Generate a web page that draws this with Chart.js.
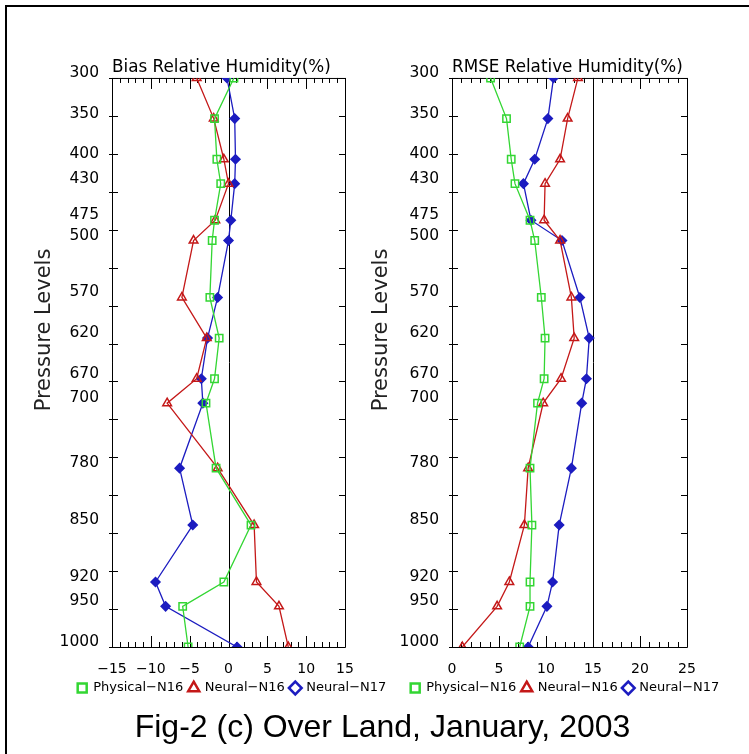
<!DOCTYPE html>
<html>
<head>
<meta charset="utf-8">
<title>Fig-2 (c) Over Land, January, 2003</title>
<script src="https://cdn.jsdelivr.net/npm/chart.js@4.4.1/dist/chart.umd.min.js"></script>
<style>
  html, body { margin: 0; padding: 0; background: #fff; }
  .frameTop { position: absolute; left: 5px; top: 5px; width: 744px; height: 2px; background: #000; }
  .frameLeft { position: absolute; left: 5px; top: 5px; width: 2px; height: 749px; background: #000; }
  canvas { position: absolute; top: 0; }
  #biasChart { left: 0; }
  #rmseChart { left: 365px; }
  #figTitle { position: absolute; left: 0; top: 708px; width: 733px; padding-left: 16px; line-height: 32px;
              text-align: center; white-space: nowrap;
              font: 32px "Liberation Sans", Arial, sans-serif; color: #000; }
</style>
</head>
<body>
<div class="frameTop"></div>
<div class="frameLeft"></div>
<canvas id="biasChart" width="464" height="754"></canvas>
<canvas id="rmseChart" width="384" height="754"></canvas>
<div id="figTitle">Fig-2 (c) Over Land, January, 2003</div>

<script>
// pressure levels (hPa), also used as the y tick labels
const levels = [300, 350, 400, 430, 475, 500, 570, 620, 670, 700, 780, 850, 920, 950, 1000];

// bias of relative humidity (%)
const biasPhysN16   = [0.7, -1.8, -1.5, -1.0, -1.8, -2.1, -2.4, -1.2, -1.8, -2.9, -1.6, 2.9, -0.6, -5.9, -5.2];
const biasNeuralN16 = [-4.1, -1.9, -0.6, 0.0, -1.7, -4.5, -6.0, -2.8, -4.1, -7.9, -1.4, 3.3, 3.6, 6.5, 7.7];
const biasNeuralN17 = [-0.2, 0.8, 0.9, 0.8, 0.3, 0.0, -1.4, -2.7, -3.5, -3.3, -6.3, -4.6, -9.4, -8.1, 1.1];

// rmse of relative humidity (%)
const rmsePhysN16   = [4.1, 5.8, 6.3, 6.7, 8.3, 8.8, 9.5, 9.9, 9.8, 9.1, 8.3, 8.5, 8.3, 8.3, 7.2];
const rmseNeuralN16 = [13.4, 12.3, 11.5, 9.9, 9.8, 11.5, 12.7, 13.0, 11.6, 9.7, 8.1, 7.7, 6.1, 4.8, 1.1];
const rmseNeuralN17 = [10.8, 10.2, 8.8, 7.6, 8.4, 11.7, 13.6, 14.6, 14.3, 13.8, 12.7, 11.4, 10.7, 10.1, 8.1];

const biasTicks = [-15, -10, -5, 0, 5, 10, 15];
const rmseTicks = [0, 5, 10, 15, 20, 25];
const seriesNames = ['Physical\u2212N16', 'Neural\u2212N16', 'Neural\u2212N17'];

const GREEN = '#33d633';
const RED = '#c41818';
const BLUE = '#1c1cc0';
const Y_TICK_STEPS = 15;   // plain tick marks along the pressure axis

const xTickFont = { family: 'DejaVu Sans', size: 14 };
const yTickFont = { family: 'DejaVu Sans', size: 15.5 };
const minus = v => String(v).replace('-', '\u2212');

function series(label, values, color, style, radius, filled) {
  return {
    label: label,
    data: values.map((v, i) => ({ x: v, y: levels[i] })),
    borderColor: color,
    backgroundColor: color,
    borderWidth: 1.3,
    pointStyle: style,
    pointRadius: radius,
    pointBorderWidth: 1.5,
    pointBorderColor: color,
    pointBackgroundColor: filled ? color : 'rgba(0,0,0,0)',
    tension: 0,
    clip: 0
  };
}

// frame, inward ticks, reference line and rotated y title
function axisDecor(refValue, yTitleX) {
  return {
    id: 'axisDecor',
    beforeDatasetsDraw(chart) {
      const { ctx, chartArea: a, scales: { x, y } } = chart;
      ctx.save();
      ctx.strokeStyle = '#000';
      ctx.lineWidth = 1;
      ctx.beginPath();
      ctx.rect(a.left + 0.5, a.top + 0.5, a.right - a.left, a.bottom - a.top);
      for (let v = x.min; v <= x.max; v++) {
        const px = Math.round(x.getPixelForValue(v)) + 0.5;
        const len = v % 5 === 0 ? 11 : 5;
        ctx.moveTo(px, a.top); ctx.lineTo(px, a.top + len);
        ctx.moveTo(px, a.bottom); ctx.lineTo(px, a.bottom - len);
      }
      for (let i = 0; i <= Y_TICK_STEPS; i++) {
        const p = y.min + i * (y.max - y.min) / Y_TICK_STEPS;
        const py = Math.round(y.getPixelForValue(p)) + 0.5;
        ctx.moveTo(a.left - 3, py); ctx.lineTo(a.left + 6, py);
        ctx.moveTo(a.right - 6, py); ctx.lineTo(a.right, py);
      }
      const rx = Math.round(x.getPixelForValue(refValue)) + 0.5;
      ctx.moveTo(rx, a.top); ctx.lineTo(rx, a.bottom);
      ctx.stroke();

      ctx.translate(yTitleX, 330);
      ctx.rotate(-Math.PI / 2);
      ctx.fillStyle = '#222';
      ctx.font = '21px "DejaVu Sans"';
      ctx.textAlign = 'center';
      ctx.textBaseline = 'middle';
      ctx.fillText('Pressure Levels', 0, 0);
      ctx.restore();
    }
  };
}

function makePanel(canvasId, title, xTicks, data, refValue, padLeft, yAxisWidth, spacerWidth, yTitleX) {
  return new Chart(document.getElementById(canvasId), {
    type: 'line',
    data: {
      datasets: [
        series(seriesNames[0], data[0], GREEN, 'rect', 5.2, false),
        series(seriesNames[1], data[1], RED, 'triangle', 5, false),
        series(seriesNames[2], data[2], BLUE, 'rectRot', 4.5, true)
      ]
    },
    options: {
      responsive: false,
      animation: false,
      devicePixelRatio: 1,
      layout: { padding: { top: 57.8, bottom: 49.5, left: padLeft, right: 0 } },
      plugins: {
        tooltip: { enabled: false },
        title: {
          display: true,
          text: title,
          align: 'start',
          fullSize: false,
          padding: 0,
          color: '#000',
          font: { family: 'DejaVu Sans', size: 16.8, weight: 'normal' }
        },
        legend: {
          position: 'bottom',
          labels: {
            usePointStyle: true,
            boxWidth: 9,
            boxHeight: 9,
            padding: 6,
            color: '#000',
            font: { family: 'DejaVu Sans', size: 13 },
            generateLabels(chart) {
              return Chart.defaults.plugins.legend.labels.generateLabels(chart)
                .map(item => ({ ...item, fillStyle: 'rgba(0,0,0,0)', lineWidth: 2.5 }));
            }
          }
        }
      },
      scales: {
        x: {
          type: 'linear',
          position: 'bottom',
          min: xTicks[0],
          max: xTicks[xTicks.length - 1],
          afterBuildTicks: s => { s.ticks = xTicks.map(v => ({ value: v })); },
          afterFit: s => { s.height = 28.5; },
          ticks: { padding: 6, color: '#000', font: xTickFont, maxRotation: 0, callback: v => minus(v) },
          grid: { display: false },
          border: { display: false }
        },
        y: {
          type: 'linear',
          position: 'left',
          reverse: true,
          min: levels[0],
          max: levels[levels.length - 1],
          afterBuildTicks: s => { s.ticks = levels.map(v => ({ value: v })); },
          afterFit: s => { s.width = yAxisWidth; },
          ticks: { autoSkip: false, padding: 5, labelOffset: -5, color: '#000', font: yTickFont, callback: v => String(v) },
          grid: { display: false },
          border: { display: false }
        },
        spacer: {
          type: 'linear',
          position: 'right',
          afterFit: s => { s.width = spacerWidth; },
          ticks: { display: false },
          grid: { display: false },
          border: { display: false }
        }
      }
    },
    plugins: [axisDecor(refValue, yTitleX)]
  });
}

makePanel('biasChart', 'Bias Relative Humidity(%)', biasTicks,
  [biasPhysN16, biasNeuralN16, biasNeuralN17], 0, 0, 112, 119, 45);
makePanel('rmseChart', 'RMSE Relative Humidity(%)', rmseTicks,
  [rmsePhysN16, rmseNeuralN16, rmseNeuralN17], 15, 16, 71, 62, 17);
</script>
</body>
</html>
